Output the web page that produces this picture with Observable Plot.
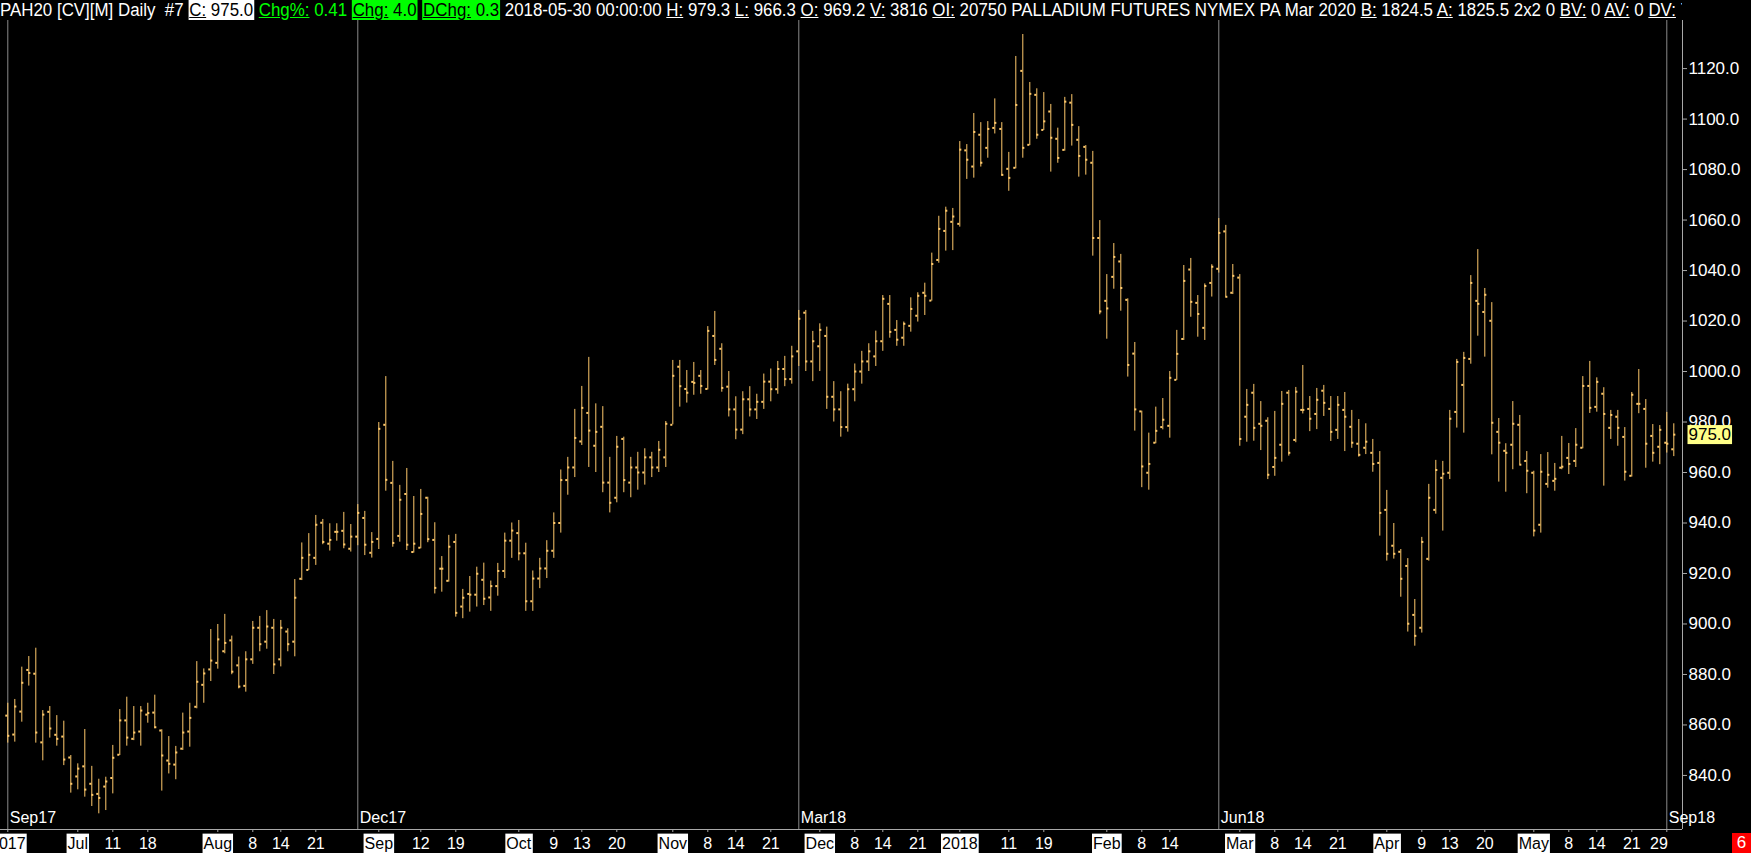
<!DOCTYPE html>
<html>
<head>
<meta charset="utf-8">
<script src="https://cdn.jsdelivr.net/npm/d3@7"></script>
<script src="https://cdn.jsdelivr.net/npm/@observablehq/plot@0.6"></script>
<style>
html, body { margin: 0; padding: 0; background: #000; overflow: hidden; }
#wrap { position: relative; width: 1751px; height: 853px; background: #000; }
#header { position: relative; height: 20px; width: 1682px; overflow: hidden; white-space: nowrap; }
#hdr { display: inline-block; transform-origin: 0 0; font: 18px "Liberation Sans", Arial, sans-serif; color: #fff; line-height: 20px; }
#hdr u { text-decoration: underline; text-underline-offset: 1px; }
.wb { background: #fff; color: #000; padding: 0 1px; }
.gt { color: #00ff00; }
.gb { background: #00ff00; color: #000; padding: 0 1px; }
#red { position: absolute; left: 1732px; top: 833px; width: 19px; height: 20px; background: #ff0000; color: #fff;
       font: 17px "Liberation Sans", Arial, sans-serif; line-height: 20px; text-align: center; }
</style>
</head>
<body>
<div id="wrap">
  <div id="header"><div id="hdr">PAH20 [CV][M] Daily&nbsp; #7 <span class="wb"><u>C:</u> 975.0</span> <span class="gt"><u>Chg%:</u> 0.41</span> <span class="gb"><u>Chg:</u> 4.0</span> <span class="gb"><u>DChg:</u> 0.3</span> 2018-05-30 00:00:00 <u>H:</u> 979.3 <u>L:</u> 966.3 <u>O:</u> 969.2 <u>V:</u> 3816 <u>OI:</u> 20750 PALLADIUM FUTURES NYMEX PA Mar 2020 <u>B:</u> 1824.5 <u>A:</u> 1825.5 2x2 0 <u>BV:</u> 0 <u>AV:</u> 0 <u>DV:</u> 7</div></div>
  <div id="chart"></div>
  <div id="red">6</div>
</div>
<script>
// ---- Data (daily OHLC, PA continuous, Jun 2017 – 2018-05-30), bar index = position ----
const open = [
863.7,856.2,865.3,881.8,880.3,853.1,865.2,856.1,855.4,847.1,
839.6,843.6,836.7,832.7,835.6,839.0,848.2,861.8,854.5,857.4,
864.1,864.9,857.8,845.9,844.3,850.6,857.4,867.2,875.9,882.0,
884.6,889.2,893.5,883.6,875.5,886,898.5,893,898.5,886,
897,893,917.9,921.4,926.2,940.1,931.8,936.5,936.9,929.8,
934.6,942.0,928.2,933.7,978.9,955.9,934.9,951.5,928.5,930.2,
950.0,933.3,921.9,917.1,932.5,906.9,911.9,911.6,917.5,910.5,
915,921,933,936,928,909,918,922,929,940,
957,962,972.3,983.6,970.6,978.1,956,950,973.3,956,
962,960,966,962,966,978.9,1001.9,993.1,995.9,998.3,
993.1,1014.1,1009.0,994,985,977,989,985,988,996,
993,1001,997,1008,1023.3,1004,1010,1014.1,990,985,
978,993,1000,1004,1006,1012,1026.8,1016.5,1013.4,1018.1,
1022.1,1031.2,1028.1,1044.2,1055.7,1059.3,1058.5,1087.6,1081.2,1093.8,
1088.6,1096.5,1096.1,1080.3,1080.7,1119.1,1089.8,1109.6,1095.7,1103.0,
1092.2,1087.8,1106.5,1091.8,1089.0,1082.7,1052.9,1028.0,1037.5,1043.6,
1028.4,1007.1,984.2,959.9,971.8,978.0,978.5,996.7,1012.9,1040.4,
1027.2,1017.3,1035.1,1040.7,1055.5,1031.2,1037.2,982.1,991.6,979.3,
980.5,962.2,971.0,991.6,972.9,984.8,985.2,983.2,992.4,985.2,
976.9,984.8,978.1,971.4,969.8,967.8,963.8,945.2,931.0,928.6,
923.0,903.6,898.5,925.8,945.2,957.9,959.9,984.0,994.7,1005.0,
1028.0,1023.6,1020.1,976.1,968.6,971.0,978.9,964.6,959.9,939.3,
955.5,956.7,961.9,965.8,964.6,969.8,994.3,986.0,991.2,977.7,
982.1,974.1,958.7,987.2,985.2,974.5,970.2,971.8,969.2
];
const high = [
868.6,870.1,882.9,887.1,890.4,865.7,867.3,863.7,861.5,847.9,
844.6,858.2,843.6,838.5,839.3,851.9,866.1,871.0,867.3,867.3,
868.6,871.8,858.1,855.4,851.5,864.7,868.6,885.1,882.2,897.8,
899.8,903.8,895.2,886.9,889,901,903,905.3,901.8,901.4,
898.1,917.6,932.1,935.8,943.0,941.4,939.7,939.7,944.2,939.4,
947.3,944.6,936.2,979.8,998.0,964.4,954.9,961.6,950.5,953.3,
950.2,940.1,926.7,935.1,935.5,913.7,918.8,922.5,924.1,917,
924,936,940,941,932,921,926,933,944,961,
966,985,994.1,1005.6,987.2,986.1,966,974.3,974,966,
968,969.4,968,972.3,980.2,1004.4,1004.4,1000.4,1003.6,1000.4,
1017.8,1023.8,1011.0,1000,990,992,994,991,999,1001,
1004,1006,1010,1024.2,1024.2,1015.9,1018.9,1017.6,996,992,
995,1003,1008,1011,1016,1030.1,1030.1,1020.2,1019.6,1029.2,
1031.2,1035.0,1046.9,1061.5,1065.1,1064.6,1091.1,1089.9,1102.2,1098.6,
1099.0,1108.0,1098.6,1086.8,1124.8,1133.5,1114.5,1112.0,1110.5,1105.8,
1096.4,1108.6,1109.7,1097.0,1089.5,1087.2,1059.8,1038.4,1050.7,1046.4,
1028.8,1011.5,984.3,975.6,985.9,989.3,1000.0,1016.3,1042.0,1044.8,
1030.1,1034.7,1042.3,1060.6,1057.9,1042.4,1038.4,992.9,994.9,988.1,
981.7,984.2,992.1,992.5,993.7,1002.4,990.1,993.3,994.5,990.1,
990.1,991.7,984.6,981.0,979.3,973.1,968.3,952.9,939.8,929.5,
925.9,909.7,934.3,955.3,964.8,964.4,984.6,1004.8,1007.6,1038.0,
1048.3,1032.9,1027.3,981.4,971.4,988.1,982.6,968.3,960.5,967.1,
967.9,963.6,974.3,971.5,977.4,998.0,1004.0,997.5,993.6,984.6,
984.6,977.8,991.7,1000.8,988.9,979.0,978.6,983.8,979.3
];
const low = [
852.8,853.2,861.1,875.4,852.8,845.8,854.8,851.6,843.9,833.0,
834.3,831.4,827.7,824.8,826.1,832.7,847.9,851.6,853.8,851.6,
860.7,858.5,833.8,840.6,838.3,849.9,851.2,866.4,868.6,877.2,
882.1,888.2,879.9,874.3,873,884,889,890,880,883,
889,887,917.2,921.2,923.2,931.4,928.9,932.8,929.8,928.5,
931,927.1,926.1,929.5,952.6,930.4,932.4,929.1,928.1,929.8,
932.2,911.9,912.6,916.6,902.7,902.1,904.7,906.7,907.3,905,
911,918,926,925,905,905,914,918,926,936,
951,958,970.7,962,960,952,944,948,952,950,
953,955,958,960,962,978.9,985.9,987.5,990.6,991.0,
992.7,1002.4,991.8,982,973,975,982,981,985,988,
991,994,995,1002,1000,996,1000,985,980,974,
976,988,995,1000,1002,1008,1013.2,1010,1010,1015.6,
1019.6,1022.2,1027.9,1042.9,1047.7,1047.9,1057.2,1076.1,1076.6,1081.0,
1084.5,1094.1,1077.4,1071.4,1080.3,1084.5,1089.5,1092.0,1095.5,1079.0,
1082.5,1087.3,1089.3,1077.0,1077.8,1045.7,1022.5,1012.8,1032.6,1023.9,
997.8,976.4,954,953,971.4,976.9,973.6,996.5,1012.3,1021.5,
1013.6,1012.3,1029.5,1039,1029.5,1030.5,970.4,972.0,972.4,968.7,
957.2,958.5,964.1,966.5,971.8,983.2,976.2,977.0,982.2,972.3,
973.1,968.3,969.6,966.1,967.1,960.1,934.8,924.9,925.7,910.6,
896.8,891.2,896.4,924.9,943.5,936.8,957.2,977.6,975.6,1002.9,
1014.0,1005.7,967.0,956.2,952.2,961.1,963.0,951.6,934.5,936,
953.8,952.6,961.1,959.2,962.0,969.4,983.4,983.9,954.6,973.1,
970.4,956.6,958.2,983.3,961.7,964.1,963.1,967.7,966.3
];
const close = [
855.7,867.3,876.7,880.6,857.0,864.1,858.6,854.5,846.3,836.7,
842.7,834.4,832.3,831.1,837.6,847.0,861.8,855.0,857.0,865.7,
864.7,859.1,847.9,844.6,849.1,857.0,862.8,877.1,880.4,885.5,
893.9,892.5,881.1,875.2,886,898.5,892,899,884,898.5,
892,910.4,926.2,927.4,939.3,932.5,933.3,936.5,931.5,934.6,
944.0,931.4,932.5,977.3,957.1,932.1,949.2,931.4,931.8,943.6,
933.6,914.3,921.9,930.6,904.4,910.4,911.6,919.9,910.0,915,
921,933,937,928,909,918,922,929,940,957,
962,973.7,985.6,976.6,976.1,956,948,970.2,957,962,
960,966,962,969,979.3,998.3,994.2,991.6,995.5,994.3,
1016.1,1004.6,993.5,985,977,989,985,988,996,993,
1001,997,1006,1020.9,1004,1012,1016.5,990,985,978,
993,1000,1004,1008,1012,1028.8,1015.7,1012.6,1018.9,1024.8,
1030.0,1030.0,1042.6,1056.5,1063.7,1061.4,1087.9,1083.9,1094.9,1082.7,
1096.1,1098.5,1077.9,1076.7,1105.6,1088.6,1110.0,1093.8,1099.1,1092.6,
1084.6,1106.9,1097.7,1085.4,1083.9,1052.9,1023.8,1025.0,1045.4,1033.1,
1002.6,985.0,962.4,963.4,976.5,980.9,997.5,1007.0,1035.9,1027.6,
1022.8,1033.9,1041.5,1054.9,1029.6,1037.9,973.3,986.8,977.7,978.5,
959.1,965.8,987.2,967.8,992.0,984.8,981.3,988.8,987.6,976.1,
986.8,982.1,971.8,967.0,972.2,963.4,944.0,927.8,927.8,917.9,
900.1,895.3,932.5,950.0,961.0,959.5,981.3,1003.8,1005.4,1035.1,
1026.8,1030.4,979.7,971.8,967.8,979.3,963.1,960.7,937.0,960.3,
959.1,957.5,962.3,963.4,971.0,994.3,985.6,995.9,983.2,982.8,
977.7,960.3,990.8,987.2,971.4,967.8,976.9,971.4,975.0
];
// bottom date axis: bar index of each label and its text
const tickIdx = [1,11,16,21,31,36,40,45,54,60,65,74,79,83,88,96,101,105,110,117,122,126,131,137,144,149,158,163,167,177,182,186,191,198,203,207,212,219,224,228,233,238];
const tickText = ["2017","Jul","11","18","Aug","8","14","21","Sep","12","19","Oct","9","13","20","Nov","8","14","21","Dec","8","14","21","2018","11","19","Feb","8","14","Mar","8","14","21","Apr","9","13","20","May","8","14","21","29"];
// contract roll markers
const rollIdx = [1, 51, 114, 174, 238];
const rollText = ["Sep17", "Dec17", "Mar18", "Jun18", "Sep18"];
// price axis
const yTicks = [840, 860, 880, 900, 920, 940, 960, 980, 1000, 1020, 1040, 1060, 1080, 1100, 1120];
const lastPrice = 975.0;

// ---- Build ----
const bars = open.map((o, k) => ({i: k + 1, o, h: high[k], l: low[k], c: close[k]}));
const ticks = tickIdx.map((i, k) => ({i, t: tickText[k], boxed: !/^\d{1,2}$/.test(tickText[k])}));
const rolls = rollIdx.map((i, k) => ({i, t: rollText[k]}));
const lastTick = ticks[ticks.length - 1];
const fmt = d3.format(".1f");

const BAR = "#ffc96b";
const GRID = "#8a8a8a";
const AXIS = "#a8a8a8";
const BOXTXT = "#010101";   // marks the texts that get a background box
const xDom = [-0.043, 240.243];
const yDom = [818.59, 1139.05];
const FONT = "'Liberation Sans', Arial, sans-serif";

const svg = Plot.plot({
  width: 1751,
  height: 833,
  marginTop: 0,
  marginLeft: 0,
  marginRight: 69,
  marginBottom: 24,
  style: {background: "#000", color: "#fff", fontFamily: FONT, fontSize: "16px", display: "block"},
  x: {type: "linear", domain: xDom, axis: null, label: null},
  y: {type: "linear", domain: yDom, axis: null, label: null},
  marks: [
    Plot.ruleX(rolls, {x: "i", stroke: GRID, strokeWidth: 1}),
    Plot.ruleX(bars, {x: "i", y1: "l", y2: "h", stroke: BAR, strokeWidth: 1}),
    Plot.ruleY(bars, {y: "o", x1: d => d.i - 0.29, x2: "i", stroke: BAR, strokeWidth: 2}),
    Plot.ruleY(bars, {y: "c", x1: "i", x2: d => d.i + 0.29, stroke: BAR, strokeWidth: 2}),
    Plot.ruleY([yDom[0]], {stroke: AXIS}),
    Plot.ruleX([xDom[1]], {stroke: AXIS}),
    Plot.axisY(yTicks, {anchor: "right", tickSize: 4, tickPadding: 2, tickFormat: fmt,
                        stroke: AXIS, fill: "#fff", fontSize: 17, label: null}),
    Plot.axisX(tickIdx, {anchor: "bottom", tickSize: 3, tickFormat: () => "", stroke: AXIS, label: null}),
    Plot.text(rolls, {x: "i", y: yDom[0], text: "t", dx: 2, dy: -12, textAnchor: "start", fill: "#fff", fontSize: 16}),
    Plot.text(ticks.filter(d => d.boxed), {x: "i", y: yDom[0], text: "t", dy: 14, fill: BOXTXT, fontSize: 16}),
    Plot.text(ticks.filter(d => !d.boxed && d !== lastTick), {x: "i", y: yDom[0], text: "t", dy: 14, fill: "#fff", fontSize: 16}),
    Plot.text([lastTick], {x: "i", y: yDom[0], text: "t", dy: 14, dx: 1, textAnchor: "end", fill: "#fff", fontSize: 16}),
    Plot.text([lastPrice], {x: xDom[1], y: d => d, text: d => fmt(d), dx: 6, textAnchor: "start",
                            fill: BOXTXT, fontSize: 17})
  ]
});

document.getElementById("chart").append(svg);

// background boxes behind the highlighted labels (month names, last price)
const lastTxt = fmt(lastPrice);
svg.querySelectorAll("text").forEach(t => {
  let el = t, fill = null;
  while (el && el !== svg) {
    const f = el.getAttribute && el.getAttribute("fill");
    if (f) { fill = f; break; }
    el = el.parentNode;
  }
  if (!fill || fill.toLowerCase() !== BOXTXT) return;
  const isPrice = t.textContent === lastTxt;
  const b = t.getBBox();
  const r = document.createElementNS("http://www.w3.org/2000/svg", "rect");
  const padX = 1, padT = isPrice ? 0 : 1, padB = isPrice ? 0 : 2;
  r.setAttribute("x", b.x - padX);
  r.setAttribute("y", b.y - padT);
  r.setAttribute("width", b.width + 2 * padX);
  r.setAttribute("height", b.height + padT + padB);
  r.setAttribute("fill", isPrice ? "#ffff88" : "#ffffff");
  const tr = t.getAttribute("transform");
  if (tr) r.setAttribute("transform", tr);
  t.parentNode.insertBefore(r, t);
});

// fit the header line to the chart's width
const hdr = document.getElementById("hdr");
const w = hdr.getBoundingClientRect().width;
hdr.style.transform = `scaleX(${1690 / w})`;
</script>
</body>
</html>
